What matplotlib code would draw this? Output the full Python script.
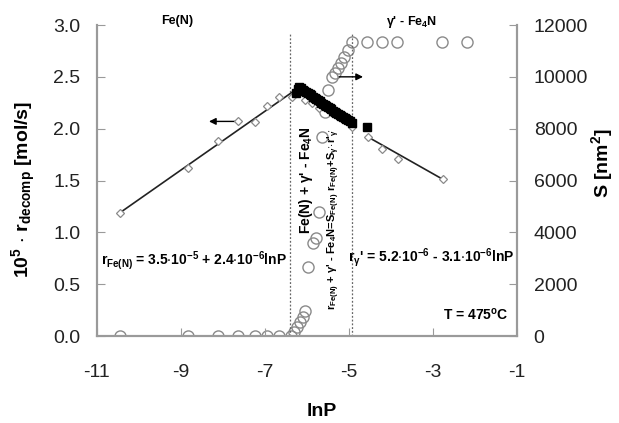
import matplotlib
matplotlib.use("Agg")
import matplotlib.pyplot as plt

plt.rcParams['font.family'] = ['Liberation Sans', 'DejaVu Sans']
plt.rcParams['mathtext.default'] = 'regular'
plt.rcParams['axes.unicode_minus'] = False

# rate data (left axis, 10^5 * r_decomp)
fe_x = [-10.45, -8.83, -8.12, -7.64, -7.24, -6.95, -6.67, -6.36]
fe_r = [1.19, 1.62, 1.88, 2.07, 2.06, 2.22, 2.31, 2.31]
fe_fit_x = [-10.45, -6.36]
fe_fit_r = [1.19, 2.35]

mix_x = [-6.05, -5.88, -5.72]
mix_r = [2.28, 2.25, 2.20]

gp_x = [-4.93, -4.55, -4.21, -3.83, -2.76]
gp_r = [2.02, 1.92, 1.80, 1.71, 1.51]
gp_fit_x = [-4.55, -2.76]
gp_fit_r = [1.92, 1.51]

sq_x = [-6.26, -6.22, -6.18, -6.14, -6.10, -6.06, -6.02, -5.98, -5.94, -5.90,
        -5.86, -5.82, -5.78, -5.74, -5.70, -5.66, -5.62, -5.58, -5.54, -5.50,
        -5.46, -5.42, -5.38, -5.34, -5.30, -5.26, -5.22, -5.18, -5.14, -5.10,
        -5.06, -5.02, -4.98, -4.94, -4.57]
sq_r = [2.34, 2.38, 2.40, 2.39, 2.37, 2.36, 2.35, 2.34, 2.33, 2.32,
        2.31, 2.30, 2.29, 2.28, 2.27, 2.25, 2.24, 2.23, 2.22, 2.21,
        2.20, 2.19, 2.17, 2.16, 2.15, 2.14, 2.13, 2.12, 2.11, 2.10,
        2.09, 2.08, 2.07, 2.05, 2.02]

# surface area data (right axis, nm^2)
s_x = [-10.45, -8.83, -8.12, -7.64, -7.24, -6.95, -6.67, -6.38,
       -6.31, -6.24, -6.17, -6.10, -6.05, -5.98, -5.86, -5.79, -5.71,
       -5.64, -5.57, -5.50, -5.40, -5.33, -5.26, -5.19, -5.12, -5.02,
       -4.93, -4.57, -4.21, -3.86, -2.79, -2.19]
s_val = [0, 0, 0, 0, 0, 0, 0, 0,
         150, 350, 550, 750, 950, 2660, 3590, 3780, 4780,
         7680, 8640, 9490, 9990, 10150, 10340, 10530, 10760, 11030,
         11340, 11340, 11340, 11340, 11340, 11340]

boundaries = [-6.40, -4.93]

grey = '#8a8a8a'

fig = plt.figure(figsize=(6.19, 4.23), dpi=100)
ax = fig.add_axes([97 / 619, 87 / 423, 420 / 619, 311 / 423])
ax2 = ax.twinx()

ax.set_xlim(-11, -1)
ax.set_ylim(0, 3)
ax2.set_ylim(0, 12000)

for b in boundaries:
    ax.axvline(b, ymax=0.975, color='#666666', ls=(0, (1.5, 1.5)), lw=0.9)

ax2.plot(s_x, s_val, 'o', ms=8, mfc='none', mec=grey, mew=1.0, zorder=2)

ax.plot(fe_fit_x, fe_fit_r, color='#222222', lw=1.2, zorder=3)
ax.plot(gp_fit_x, gp_fit_r, color='#222222', lw=1.2, zorder=3)
ax.plot(fe_x + mix_x + gp_x, fe_r + mix_r + gp_r, 'D', ms=4, mfc='white',
        mec=grey, mew=0.9, zorder=4)
ax.plot(sq_x, sq_r, 's', ms=5.5, color='black', zorder=5)

ax.set_zorder(ax2.get_zorder() + 1)
ax.patch.set_visible(False)

ax.annotate('', xy=(-8.40, 2.07), xytext=(-7.64, 2.07),
            arrowprops=dict(arrowstyle='-|>', color='black', lw=1,
                            mutation_scale=10))
ax.annotate('', xy=(-4.60, 2.50), xytext=(-5.30, 2.50),
            arrowprops=dict(arrowstyle='-|>', color='black', lw=1,
                            mutation_scale=10))

for a in (ax, ax2):
    a.spines['top'].set_visible(False)
    for s in ('left', 'right', 'bottom'):
        a.spines[s].set_color('#9a9a9a')
        a.spines[s].set_linewidth(1.5)

ax.set_xticks([-11, -9, -7, -5, -3, -1])
ax.set_yticks([0, 0.5, 1.0, 1.5, 2.0, 2.5, 3.0])
ax.set_yticklabels(['0.0', '0.5', '1.0', '1.5', '2.0', '2.5', '3.0'])
ax2.set_yticks([0, 2000, 4000, 6000, 8000, 10000, 12000])

ax.tick_params(axis='y', direction='in', length=6, color='#9a9a9a',
               labelsize=14, pad=12, labelcolor='#222222')
ax.tick_params(axis='x', direction='in', length=6, color='#9a9a9a',
               labelsize=14, pad=20, labelcolor='#222222')
ax2.tick_params(axis='y', direction='in', length=6, color='#9a9a9a',
                labelsize=14, pad=12, labelcolor='#222222')

ax.set_xlabel('lnP', fontsize=14, fontweight='bold')
ax.xaxis.set_label_coords(0.535, -0.215)
ax.set_ylabel(r'10$^{5}$ $\cdot$ r$_{decomp}$ [mol/s]', fontsize=14,
              fontweight='bold')
ax.yaxis.set_label_coords(-0.14, 0.47)
ax2.set_ylabel(r'S [nm$^{2}$]', fontsize=14, fontweight='bold')
ax2.yaxis.set_label_coords(1.172, 0.556)

narrow = ['Liberation Sans Narrow', 'Liberation Sans']
ax.text(-9.10, 3.04, 'Fe(N)', fontsize=9, fontweight='bold', ha='center',
        va='center', family=narrow, clip_on=False)
ax.text(-3.50, 3.03, r"$\gamma$' - Fe$_4$N", fontsize=9, fontweight='bold',
        ha='center', va='center', family=narrow, clip_on=False)
ax.text(-8.69, 0.73,
        r'r$_{Fe(N)}$ = 3.5$\cdot$10$^{-5}$ + 2.4$\cdot$10$^{-6}$lnP',
        fontsize=10, fontweight='bold', ha='center', va='center', family=narrow)
ax.text(-3.05, 0.76,
        r"r$_{\gamma}$' = 5.2$\cdot$10$^{-6}$ - 3.1$\cdot$10$^{-6}$lnP",
        fontsize=10, fontweight='bold', ha='center', va='center', family=narrow)
ax.text(-1.19, 0.21, r'T = 475$^{o}$C', fontsize=10, fontweight='bold',
        ha='right', va='center', family=narrow)
ax.text(-6.02, 1.50, r"Fe(N) + $\gamma$' - Fe$_4$N", fontsize=10,
        fontweight='bold', rotation=90, ha='center', va='center', family=narrow)
ax.text(-5.36, 1.13,
        r"r$_{Fe(N)}$ + $\gamma$' - Fe$_4$N=S$_{Fe(N)}$ r$_{Fe(N)}$+S$_{\gamma'}$$\cdot$r'$_{\gamma'}$",
        fontsize=8, fontweight='bold', rotation=90, ha='center', va='center',
        family=narrow)

fig.savefig('out.png', dpi=100)
